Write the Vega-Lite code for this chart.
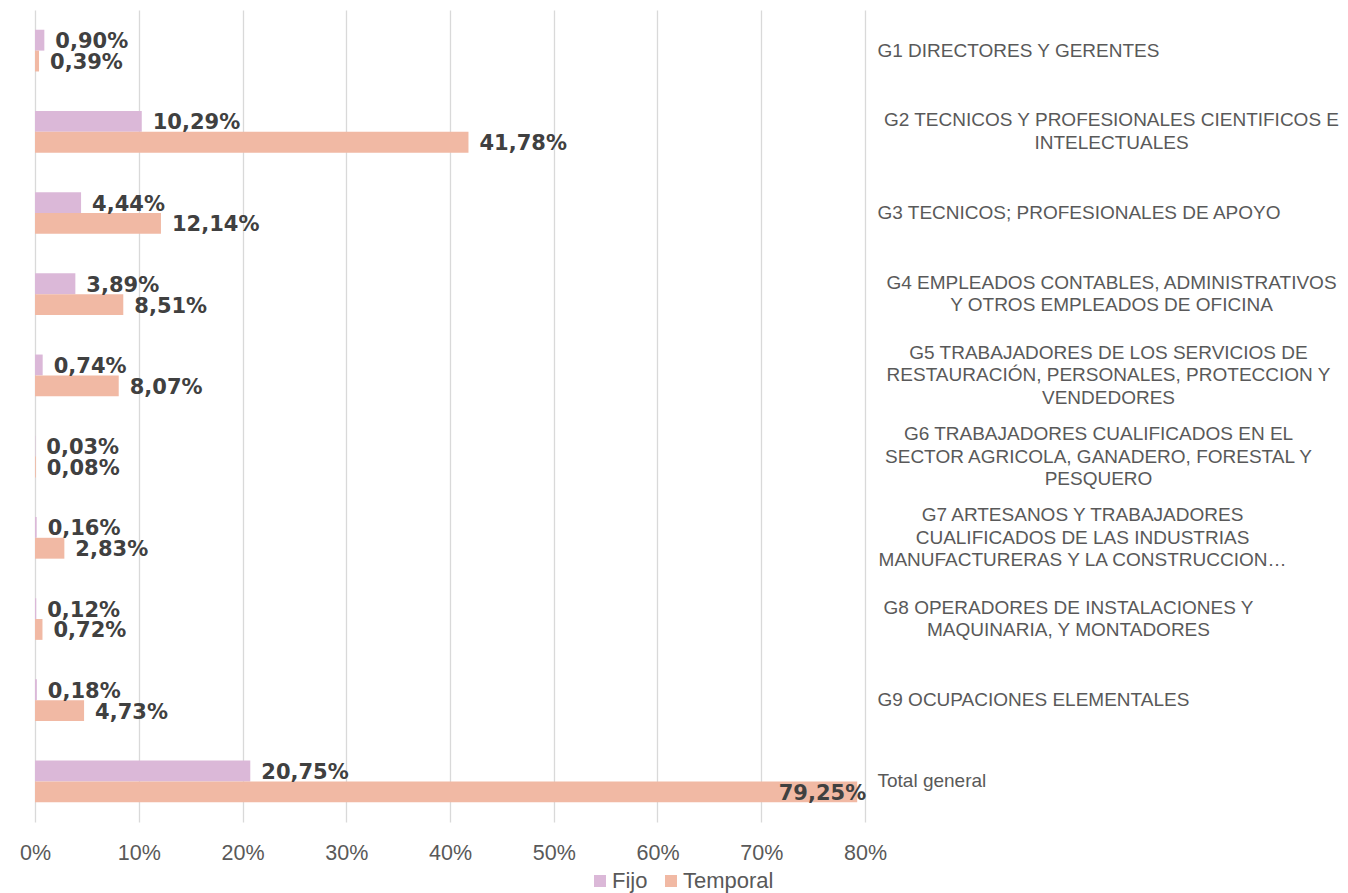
{
  "$schema": "https://vega.github.io/schema/vega-lite/v6.json",
  "width": 830,
  "height": 812,
  "autosize": {"type": "none"},
  "padding": {"left": 35, "top": 10, "right": 483, "bottom": 71},
  "background": "white",
  "config": {
    "view": {"stroke": null},
    "locale": {"number": {"decimal": ",", "thousands": ".", "grouping": [3], "currency": ["", " €"]}}
  },
  "data": {
    "values": [
      {"cat": "G1 DIRECTORES Y GERENTES", "serie": "Fijo", "v": 0.0090},
      {"cat": "G1 DIRECTORES Y GERENTES", "serie": "Temporal", "v": 0.0039},
      {"cat": "G2 TECNICOS Y PROFESIONALES CIENTIFICOS E\nINTELECTUALES", "serie": "Fijo", "v": 0.1029},
      {"cat": "G2 TECNICOS Y PROFESIONALES CIENTIFICOS E\nINTELECTUALES", "serie": "Temporal", "v": 0.4178},
      {"cat": "G3 TECNICOS; PROFESIONALES DE APOYO", "serie": "Fijo", "v": 0.0444},
      {"cat": "G3 TECNICOS; PROFESIONALES DE APOYO", "serie": "Temporal", "v": 0.1214},
      {"cat": "G4 EMPLEADOS CONTABLES, ADMINISTRATIVOS\nY OTROS EMPLEADOS DE OFICINA", "serie": "Fijo", "v": 0.0389},
      {"cat": "G4 EMPLEADOS CONTABLES, ADMINISTRATIVOS\nY OTROS EMPLEADOS DE OFICINA", "serie": "Temporal", "v": 0.0851},
      {"cat": "G5 TRABAJADORES DE LOS SERVICIOS DE\nRESTAURACIÓN, PERSONALES, PROTECCION Y\nVENDEDORES", "serie": "Fijo", "v": 0.0074},
      {"cat": "G5 TRABAJADORES DE LOS SERVICIOS DE\nRESTAURACIÓN, PERSONALES, PROTECCION Y\nVENDEDORES", "serie": "Temporal", "v": 0.0807},
      {"cat": "G6 TRABAJADORES CUALIFICADOS EN EL\nSECTOR AGRICOLA, GANADERO, FORESTAL Y\nPESQUERO", "serie": "Fijo", "v": 0.0003},
      {"cat": "G6 TRABAJADORES CUALIFICADOS EN EL\nSECTOR AGRICOLA, GANADERO, FORESTAL Y\nPESQUERO", "serie": "Temporal", "v": 0.0008},
      {"cat": "G7 ARTESANOS Y TRABAJADORES\nCUALIFICADOS DE LAS INDUSTRIAS\nMANUFACTURERAS Y LA CONSTRUCCION…", "serie": "Fijo", "v": 0.0016},
      {"cat": "G7 ARTESANOS Y TRABAJADORES\nCUALIFICADOS DE LAS INDUSTRIAS\nMANUFACTURERAS Y LA CONSTRUCCION…", "serie": "Temporal", "v": 0.0283},
      {"cat": "G8 OPERADORES DE INSTALACIONES Y\nMAQUINARIA, Y MONTADORES", "serie": "Fijo", "v": 0.0012},
      {"cat": "G8 OPERADORES DE INSTALACIONES Y\nMAQUINARIA, Y MONTADORES", "serie": "Temporal", "v": 0.0072},
      {"cat": "G9 OCUPACIONES ELEMENTALES", "serie": "Fijo", "v": 0.0018},
      {"cat": "G9 OCUPACIONES ELEMENTALES", "serie": "Temporal", "v": 0.0473},
      {"cat": "Total general", "serie": "Fijo", "v": 0.2075},
      {"cat": "Total general", "serie": "Temporal", "v": 0.7925}
    ]
  },
  "encoding": {
    "y": {
      "field": "cat",
      "type": "nominal",
      "sort": null,
      "scale": {"paddingInner": 0.486, "paddingOuter": 0.243},
      "axis": {
        "orient": "right",
        "title": null,
        "domain": false,
        "ticks": false,
        "grid": false,
        "labelExpr": "split(datum.label, '\\n')",
        "labelFont": "Liberation Sans",
        "labelFontSize": 19,
        "labelColor": "#595959",
        "labelLineHeight": 22.5,
        "labelLimit": 0,
        "labelAlign": {"condition": {"test": "indexof(datum.value, '\\n') >= 0", "value": "center"}, "value": "left"},
        "labelOffset": {
          "condition": [
            {"test": "slice(datum.value, 0, 2) == 'G5' || slice(datum.value, 0, 2) == 'G6' || slice(datum.value, 0, 2) == 'G7'", "value": -22.5},
            {"test": "indexof(datum.value, '\\n') >= 0", "value": -11.5}
          ],
          "value": 0
        },
        "labelPadding": {
          "condition": [
            {"test": "slice(datum.value, 0, 2) == 'G2'", "value": 246},
            {"test": "slice(datum.value, 0, 2) == 'G4'", "value": 246},
            {"test": "slice(datum.value, 0, 2) == 'G5'", "value": 243},
            {"test": "slice(datum.value, 0, 2) == 'G6'", "value": 233},
            {"test": "slice(datum.value, 0, 2) == 'G7'", "value": 217},
            {"test": "slice(datum.value, 0, 2) == 'G8'", "value": 203}
          ],
          "value": 12
        }
      }
    },
    "yOffset": {
      "field": "serie",
      "type": "nominal",
      "sort": ["Fijo", "Temporal"],
      "scale": {"paddingInner": 0, "paddingOuter": 0}
    },
    "x": {
      "field": "v",
      "type": "quantitative",
      "scale": {"domain": [0, 0.8], "nice": false},
      "axis": {
        "orient": "bottom",
        "title": null,
        "domain": false,
        "ticks": false,
        "grid": true,
        "gridColor": "#d9d9d9",
        "gridWidth": 1.3,
        "values": [0, 0.1, 0.2, 0.3, 0.4, 0.5, 0.6, 0.7, 0.8],
        "format": "%",
        "labelFlush": false,
        "labelFont": "Liberation Sans",
        "labelFontSize": 21.5,
        "labelColor": "#595959",
        "labelPadding": 20
      }
    }
  },
  "layer": [
    {
      "mark": {"type": "bar"},
      "encoding": {
        "color": {
          "field": "serie",
          "type": "nominal",
          "scale": {"domain": ["Fijo", "Temporal"], "range": ["#dbb8d8", "#f1b9a4"]},
          "legend": {
            "title": null,
            "orient": "none",
            "legendX": 554,
            "legendY": 860,
            "padding": 0,
            "direction": "horizontal",
            "symbolType": "square",
            "symbolSize": 144,
            "symbolStrokeWidth": 0,
            "labelFont": "Liberation Sans",
            "labelFontSize": 22,
            "labelColor": "#595959",
            "labelOffset": 1,
            "columnPadding": 12
          }
        }
      }
    },
    {
      "transform": [{"filter": "!(datum.cat == 'Total general' && datum.serie == 'Temporal')"}],
      "mark": {"type": "text", "align": "left", "baseline": "middle", "dx": 11, "dy": 2, "font": "DejaVu Sans", "fontWeight": "bold", "fontSize": 21, "color": "#404040"},
      "encoding": {"text": {"field": "v", "type": "quantitative", "format": ".2%"}}
    },
    {
      "transform": [{"filter": "datum.cat == 'Total general' && datum.serie == 'Temporal'"}],
      "mark": {"type": "text", "align": "right", "baseline": "middle", "dx": 9, "dy": 2, "font": "DejaVu Sans", "fontWeight": "bold", "fontSize": 21, "color": "#404040"},
      "encoding": {"text": {"field": "v", "type": "quantitative", "format": ".2%"}}
    }
  ]
}
